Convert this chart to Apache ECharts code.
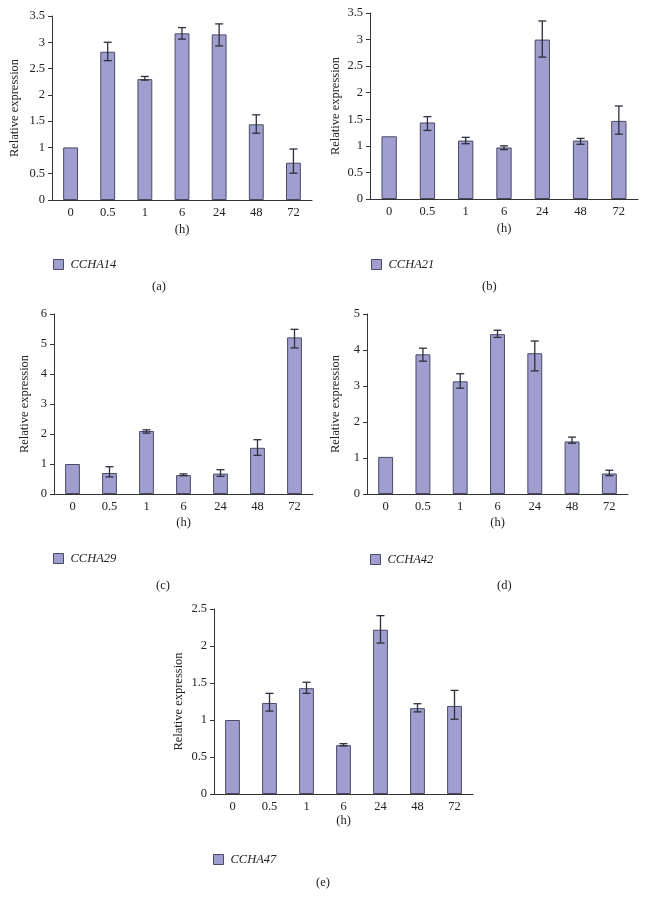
<!DOCTYPE html>
<html>
<head>
<meta charset="utf-8">
<script src="https://cdn.jsdelivr.net/npm/echarts@6/dist/echarts.min.js"></script>
<style>
html,body{margin:0;padding:0;background:#fff;}
#chart{width:646px;height:901px;}
</style>
</head>
<body>
<div id="chart"></div>
<script>
var categories = ['0', '0.5', '1', '6', '24', '48', '72'];

var namesGenes = ['CCHA14', 'CCHA21', 'CCHA29', 'CCHA42', 'CCHA47'];
var panelLabels = ['(a)', '(b)', '(c)', '(d)', '(e)'];

var valuesA = [1.00, 2.82, 2.30, 3.17, 3.15, 1.44, 0.71];
var lowA    = [1.00, 2.65, 2.28, 3.06, 2.93, 1.27, 0.51];
var highA   = [1.00, 3.00, 2.35, 3.28, 3.35, 1.62, 0.97];

var valuesB = [1.18, 1.44, 1.10, 0.97, 3.00, 1.10, 1.47];
var lowB    = [1.18, 1.29, 1.04, 0.93, 2.67, 1.03, 1.22];
var highB   = [1.18, 1.55, 1.16, 1.00, 3.35, 1.14, 1.75];

var valuesC = [1.00, 0.70, 2.10, 0.63, 0.68, 1.54, 5.22];
var lowC    = [1.00, 0.57, 2.03, 0.61, 0.59, 1.29, 4.87];
var highC   = [1.00, 0.91, 2.14, 0.67, 0.81, 1.81, 5.49];

var valuesD = [1.03, 3.88, 3.13, 4.44, 3.91, 1.46, 0.57];
var lowD    = [1.03, 3.69, 2.94, 4.35, 3.42, 1.41, 0.51];
var highD   = [1.03, 4.05, 3.34, 4.55, 4.25, 1.58, 0.66];

var valuesE = [1.00, 1.23, 1.43, 0.66, 2.22, 1.16, 1.19];
var lowE    = [1.00, 1.12, 1.36, 0.65, 2.04, 1.11, 1.01];
var highE   = [1.00, 1.36, 1.51, 0.68, 2.41, 1.22, 1.40];

var yMax = [3.5, 3.5, 6, 5, 2.5];
var yStep = [0.5, 0.5, 1, 1, 0.5];

var allValues = [valuesA, valuesB, valuesC, valuesD, valuesE];
var allLow = [lowA, lowB, lowC, lowD, lowE];
var allHigh = [highA, highB, highC, highD, highE];

// layout
var grids = [
  {left: 52, top: 16, width: 260, height: 184},
  {left: 370, top: 13, width: 268, height: 186},
  {left: 54, top: 314, width: 259, height: 180},
  {left: 367, top: 314, width: 261, height: 180},
  {left: 214, top: 609, width: 259, height: 185}
];
var yNameGap = [31, 28, 23, 25, 29];
var xNameGap = [23, 23, 22, 22, 19];
var legendPos = [[53, 258], [371, 258], [53, 552], [370, 553], [213, 853]];
var labelPos = [[160, 287], [490, 287], [164, 586], [505, 586], [324, 883]];

var FONT = '"Liberation Serif", "DejaVu Serif", serif';
var FS = 12.5;
var FILL = '#9f9ecf';
var EDGE = '#4a4a68';
var AXIS = '#333333';

var option = {
  backgroundColor: '#ffffff',
  animation: false,
  textStyle: {fontFamily: FONT},
  grid: [], xAxis: [], yAxis: [], series: [], legend: [], graphic: []
};

for (var i = 0; i < 5; i++) {
  var g = grids[i];
  option.grid.push({left: g.left, top: g.top, width: g.width, height: g.height, containLabel: false});
  option.xAxis.push({
    type: 'category', gridIndex: i, data: categories,
    name: '(h)', nameLocation: 'middle', nameGap: xNameGap[i],
    nameTextStyle: {fontFamily: FONT, fontSize: FS, color: '#222'},
    axisLine: {lineStyle: {color: AXIS, width: 1}},
    axisTick: {show: false},
    axisLabel: {fontFamily: FONT, fontSize: FS, color: '#222', margin: 6},
    splitLine: {show: false}
  });
  option.yAxis.push({
    type: 'value', gridIndex: i, min: 0, max: yMax[i], interval: yStep[i],
    name: 'Relative expression', nameLocation: 'middle', nameGap: yNameGap[i],
    nameTextStyle: {fontFamily: FONT, fontSize: FS, color: '#222'},
    axisLine: {show: true, lineStyle: {color: AXIS, width: 1}},
    axisTick: {show: true, length: 4, lineStyle: {color: AXIS}},
    axisLabel: {fontFamily: FONT, fontSize: FS, color: '#222', margin: 7},
    splitLine: {show: false}
  });
  option.series.push({
    name: namesGenes[i], type: 'bar', xAxisIndex: i, yAxisIndex: i,
    data: allValues[i], barWidth: '40%',
    itemStyle: {color: FILL, borderColor: EDGE, borderWidth: 1}
  });
  (function (low, high) {
    var errData = low.map(function (l, k) { return [k, l, high[k]]; });
    option.series.push({
      name: 'err' + i, type: 'custom', xAxisIndex: i, yAxisIndex: i,
      data: errData, z: 10,
      renderItem: function (params, api) {
        var x = api.value(0);
        var lo = api.coord([x, api.value(1)]);
        var hi = api.coord([x, api.value(2)]);
        if (Math.abs(lo[1] - hi[1]) < 0.5) return null;
        var cap = 4;
        var st = {stroke: '#2e2e3e', lineWidth: 1.3};
        return {
          type: 'group',
          children: [
            {type: 'line', shape: {x1: lo[0], y1: lo[1], x2: hi[0], y2: hi[1]}, style: st},
            {type: 'line', shape: {x1: lo[0] - cap, y1: lo[1], x2: lo[0] + cap, y2: lo[1]}, style: st},
            {type: 'line', shape: {x1: hi[0] - cap, y1: hi[1], x2: hi[0] + cap, y2: hi[1]}, style: st}
          ]
        };
      }
    });
  })(allLow[i], allHigh[i]);
  option.legend.push({
    data: [namesGenes[i]], left: legendPos[i][0], top: legendPos[i][1],
    padding: 0, itemWidth: 10, itemHeight: 10, icon: 'rect', selectedMode: false,
    itemStyle: {color: FILL, borderColor: EDGE, borderWidth: 1},
    textStyle: {fontFamily: FONT, fontSize: FS, fontStyle: 'italic', color: '#222', padding: [0, 0, 0, 2]}
  });
  option.graphic.push({
    type: 'text', left: labelPos[i][0] - 8, top: labelPos[i][1] - 7,
    style: {text: panelLabels[i], font: FS + 'px ' + FONT, fill: '#222'}
  });
}

var chart = echarts.init(document.getElementById('chart'), null, {renderer: 'canvas'});
chart.setOption(option);
</script>
</body>
</html>
